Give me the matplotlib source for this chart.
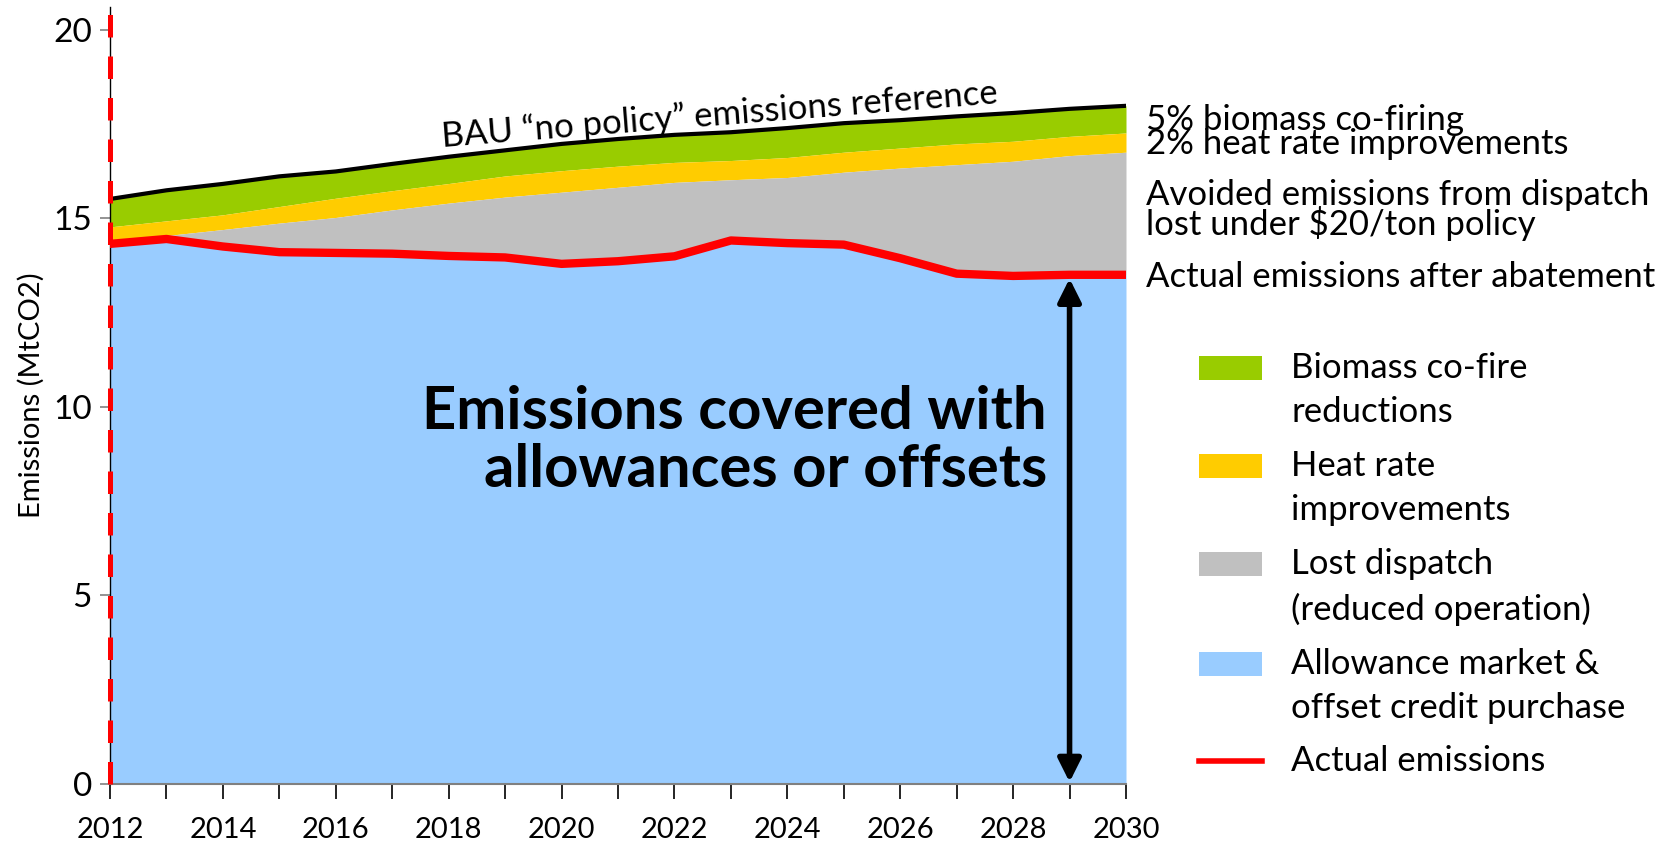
import matplotlib
matplotlib.use('Agg')
import matplotlib.pyplot as plt
from matplotlib.patches import Rectangle
from matplotlib.lines import Line2D
import numpy as np

plt.rcParams['font.family'] = ['Lato', 'DejaVu Sans']

# Datos (MtCO2)
years = np.arange(2012, 2031)
bau = [15.51, 15.74, 15.91, 16.11, 16.24, 16.44, 16.63, 16.80, 16.97, 17.10,
       17.21, 17.28, 17.39, 17.52, 17.60, 17.70, 17.79, 17.90, 17.98]
after_biomass = [14.77, 14.93, 15.09, 15.31, 15.53, 15.73, 15.92, 16.12, 16.26, 16.38,
                 16.48, 16.53, 16.61, 16.75, 16.86, 16.97, 17.04, 17.17, 17.26]
after_heat_rate = [14.43, 14.54, 14.70, 14.87, 15.02, 15.22, 15.40, 15.56, 15.69, 15.82,
                   15.95, 16.02, 16.08, 16.22, 16.33, 16.42, 16.51, 16.66, 16.75]
actual = [14.32, 14.45, 14.25, 14.10, 14.08, 14.06, 14.00, 13.96, 13.79, 13.86,
          13.99, 14.41, 14.34, 14.30, 13.94, 13.53, 13.47, 13.50, 13.50]

legend_labels = ['Biomass co-fire\nreductions', 'Heat rate\nimprovements',
                 'Lost dispatch\n(reduced operation)',
                 'Allowance market &\noffset credit purchase', 'Actual emissions']
colors = ['#99CC00', '#FFCC00', '#C0C0C0', '#99CCFF']
red = '#FF0000'

W, H = 1673, 847
fig = plt.figure(figsize=(W / 100, H / 100), dpi=100)
ax = fig.add_axes([110 / W, 1 - 784 / H, (1126 - 110) / W, (784 - 7) / H])

# Áreas apiladas
ax.fill_between(years, after_biomass, bau, color=colors[0], lw=0)
ax.fill_between(years, after_heat_rate, after_biomass, color=colors[1], lw=0)
ax.fill_between(years, actual, after_heat_rate, color=colors[2], lw=0)
ax.fill_between(years, 0, actual, color=colors[3], lw=0)

# Líneas
ax.plot(years, bau, color='black', lw=3, solid_joinstyle='round', zorder=4)
ax.plot(years, actual, color=red, lw=6, solid_joinstyle='round', zorder=4)
ax.axvline(2012, color=red, lw=3.6, linestyle=(0, (4.5, 3.8)), zorder=5, clip_on=False)

ax.set_xlim(2012, 2030)
ax.set_ylim(0, 20.6)
ax.set_yticks([0, 5, 10, 15, 20])
ax.set_xticks(years, minor=True)
ax.set_xticks(years[::2])
ax.tick_params(axis='y', labelsize=24, length=7, width=1.2, color='#808080', pad=6)
ax.tick_params(axis='x', which='both', length=11, width=1.2, color='black', labelsize=21, pad=13)
ax.set_ylabel('Emissions (MtCO2)', fontsize=21, labelpad=6)
for s in ['top', 'right']:
    ax.spines[s].set_visible(False)
ax.spines['left'].set_linewidth(1)
ax.spines['bottom'].set_color('#808080')
ax.spines['bottom'].set_linewidth(1.5)

# Textos
ax.text(2022.8, 17.74, 'BAU \u201cno policy\u201d emissions reference', fontsize=25,
        rotation=4.5, rotation_mode='anchor', ha='center', va='center')
ax.text(2028.6, 9.1, 'Emissions covered with\nallowances or offsets', fontsize=43,
        fontweight='bold', ha='right', va='center', linespacing=1.1)

side = [(17.60, '5% biomass co-firing'), (16.97, '2% heat rate improvements'),
        (15.22, 'Avoided emissions from dispatch\nlost under $20/ton policy'),
        (13.45, 'Actual emissions after abatement')]
for y, t in side:
    ax.text(2030.35, y, t, fontsize=25, ha='left', va='center', linespacing=0.82, clip_on=False)

# Flecha doble
ax.annotate('', xy=(2029, 0.05), xytext=(2029, 13.4),
            arrowprops=dict(arrowstyle='<|-|>', color='black', lw=4, mutation_scale=35,
                            shrinkA=0, shrinkB=0))

# Leyenda manual
ys = [368, 466, 564, 664]
for y, c, lab in zip(ys, colors, legend_labels[:4]):
    fig.add_artist(Rectangle((1199 / W, 1 - (y + 12) / H), 63 / W, 24 / H,
                             transform=fig.transFigure, color=c, lw=0))
    fig.text(1291 / W, 1 - (y - 16) / H, lab, fontsize=25, ha='left', va='top', linespacing=1.46)
fig.add_artist(Line2D([1199 / W, 1262 / W], [1 - 761 / H, 1 - 761 / H],
                      transform=fig.transFigure, color=red, lw=4))
fig.text(1291 / W, 1 - 761 / H, legend_labels[4], fontsize=25, ha='left', va='center')

fig.savefig('out.png', dpi=100)
